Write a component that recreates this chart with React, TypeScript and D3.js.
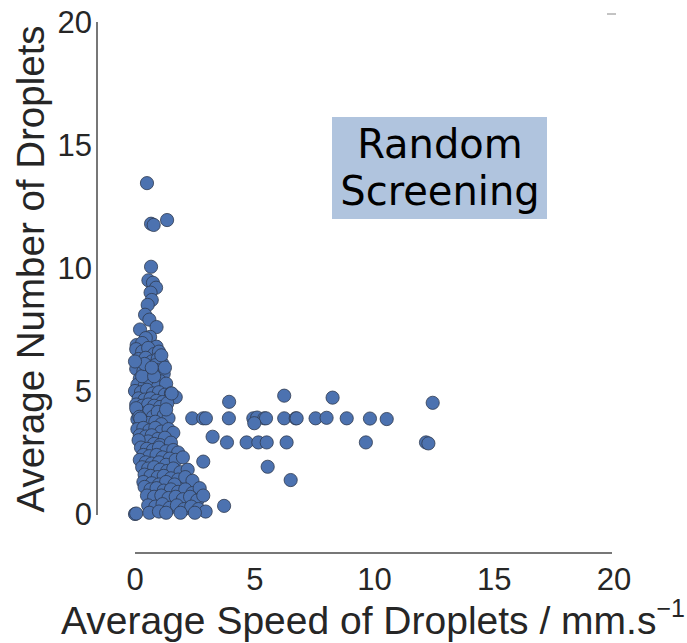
import React from "react";
import * as d3 from "d3";

const xTicks = [0, 5, 10, 15, 20];
const yTicks = [0, 5, 10, 15, 20];
const xLabel = "Average Speed of Droplets / mm.s";
const xLabelSup = "\u22121";
const yLabel = "Average Number of Droplets";
const boxLines = ["Random", "Screening"];

// [speed, number] pairs — dense cluster near low speeds
const clusterPoints: [number, number][] = [
  [0.5, 13.45], [0.67, 11.8], [0.78, 11.75], [1.34, 11.95],
  [0.67, 10.05], [0.56, 9.5], [0.75, 9.4], [0.88, 9.2], [0.65, 9.0],
  [0.7, 8.7], [0.53, 8.5], [0.42, 8.1], [0.6, 7.9], [0.9, 7.6], [0.21, 7.5],
  [0.63, 7.2], [0.45, 7.15], [0.07, 6.87], [0.9, 6.8], [0.3, 6.95],
  [0.05, 6.7], [0.3, 6.6], [0.55, 6.75], [0.8, 6.5], [1.0, 6.6], [0.15, 6.3], [0.45, 6.35],
  [0.7, 6.2], [0.95, 6.3], [1.15, 6.1], [0.25, 6.05], [0.6, 6.0], [0.85, 6.05],
  [0.05, 5.9], [0.35, 5.8], [0.6, 5.7], [0.9, 5.85], [1.2, 5.7], [0.2, 5.5], [0.5, 5.45],
  [0.75, 5.5], [1.05, 5.4], [0.1, 5.25], [0.4, 5.2], [0.65, 5.3], [0.95, 5.15], [1.3, 5.3],
  [0.3, 5.6], [0.8, 5.6], [1.1, 6.45], [0.4, 6.1], [0.7, 5.95], [1.25, 5.95], [0.0, 6.2],
  [0.0, 5.0], [0.25, 4.95], [0.5, 5.05], [0.75, 4.9], [1.0, 4.95], [1.25, 4.85], [1.5, 4.9],
  [1.7, 4.75], [0.15, 4.7], [0.4, 4.65], [0.65, 4.7], [0.9, 4.6], [1.15, 4.55], [0.05, 4.45],
  [0.3, 4.4], [0.55, 4.45], [0.8, 4.4], [1.05, 4.35], [1.35, 4.5],
  [0.1, 4.2], [0.2, 4.0], [0.15, 3.9], [0.25, 3.95], [0.3, 4.05], [0.1, 3.85], [0.45, 4.1],
  [0.6, 4.2], [0.75, 3.95], [0.95, 4.15], [1.2, 4.0], [1.4, 3.9], [0.35, 3.75], [0.55, 3.7],
  [0.85, 3.75], [1.1, 3.65], [0.2, 3.6], [0.05, 4.3], [1.3, 4.25], [0.18, 3.95], [0.22, 3.88],
  [0.1, 3.45], [0.35, 3.5], [0.6, 3.4], [0.85, 3.5], [1.1, 3.35], [1.4, 3.45], [1.6, 3.3],
  [0.2, 3.2], [0.45, 3.15], [0.7, 3.2], [0.95, 3.05], [1.25, 3.1], [0.3, 2.9], [0.55, 2.95],
  [0.8, 2.85], [1.05, 2.8], [1.5, 2.9], [0.15, 3.0],
  [0.25, 2.7], [0.5, 2.65], [0.75, 2.6], [1.0, 2.7], [1.3, 2.55], [1.6, 2.6], [1.8, 2.5],
  [0.35, 2.4], [0.6, 2.35], [0.9, 2.4], [1.15, 2.3], [1.45, 2.25], [0.2, 2.2], [0.45, 2.1],
  [0.7, 2.05], [1.0, 2.1], [1.3, 2.0], [1.7, 2.2], [2.0, 2.3],
  [0.3, 1.9], [0.55, 1.85], [0.8, 1.9], [1.05, 1.8], [1.35, 1.75], [1.6, 1.85], [1.9, 1.7],
  [2.2, 1.8], [0.4, 1.6], [0.65, 1.55], [0.95, 1.5], [1.2, 1.55], [1.5, 1.45], [1.8, 1.4],
  [2.1, 1.5], [0.35, 1.3], [0.7, 1.25], [1.0, 1.2], [1.3, 1.3], [1.65, 1.2], [2.4, 1.35],
  [0.4, 1.1], [0.65, 1.0], [0.9, 1.05], [1.2, 0.95], [1.5, 1.0], [1.8, 0.9], [2.1, 1.0],
  [2.4, 0.85], [2.7, 1.05], [0.5, 0.75], [0.8, 0.7], [1.1, 0.75], [1.4, 0.65], [1.7, 0.7],
  [2.0, 0.6], [2.3, 0.7], [2.6, 0.55], [2.85, 0.75],
  [0.0, 0.0], [0.05, 0.02], [0.55, 0.35], [0.85, 0.3], [1.15, 0.4], [1.45, 0.25], [1.75, 0.35],
  [2.05, 0.2], [2.35, 0.3], [2.65, 0.2], [2.95, 0.1], [0.6, 0.05], [1.0, 0.1], [1.3, 0.05],
  [1.9, 0.05], [2.5, 0.05],
];

// [speed, number] pairs — points spread to higher speeds
const spreadPoints: [number, number][] = [
  [1.53, 4.9], [3.93, 4.56], [6.23, 4.81], [8.25, 4.73], [12.43, 4.52],
  [2.39, 3.89], [2.85, 3.89], [2.96, 3.89], [3.92, 3.89], [4.94, 3.89], [5.1, 3.92],
  [5.4, 3.89], [5.47, 3.89], [6.23, 3.89], [6.71, 3.89], [6.75, 3.89], [7.54, 3.89],
  [8.0, 3.91], [8.84, 3.89], [9.81, 3.88], [10.51, 3.86], [4.98, 3.69],
  [3.24, 3.14], [3.84, 2.91], [4.66, 2.91], [5.15, 2.91], [5.5, 2.91], [6.33, 2.91],
  [9.64, 2.91], [12.15, 2.91], [12.25, 2.87],
  [2.85, 2.13], [5.54, 1.92], [6.5, 1.38], [3.72, 0.33],
];

export default function App() {
  const W = 687;
  const H = 643;
  const x = d3.scaleLinear().domain([0, 20]).range([135, 614]);
  const y = d3.scaleLinear().domain([0, 20]).range([514, 22]);
  const axisColor = "#4a4a4a";
  const textColor = "#262626";
  const tickFont = "'Liberation Sans', Arial, sans-serif";
  const pts = [...clusterPoints, ...spreadPoints];

  return (
    <svg width={W} height={H} style={{ position: "absolute", left: 0, top: 0, background: "#fff" }}>
      {/* y axis */}
      <line x1={97} x2={97} y1={y(20)} y2={y(0) + 1} stroke={axisColor} strokeWidth={1.5} />
      {yTicks.map((t) => (
        <text key={"y" + t} x={92} y={y(t)} dy="0.36em" textAnchor="end"
          fontFamily={tickFont} fontSize={31} fill={textColor}>{t}</text>
      ))}
      {/* x axis */}
      <line x1={x(0)} x2={x(20) - 2} y1={553} y2={553} stroke={axisColor} strokeWidth={1.5} />
      {xTicks.map((t) => (
        <text key={"x" + t} x={x(t)} y={590} textAnchor="middle"
          fontFamily={tickFont} fontSize={31} fill={textColor}>{t}</text>
      ))}
      {/* stray mark top right */}
      <line x1={607} x2={616} y1={14} y2={14} stroke="#888" strokeWidth={1} />
      {/* axis labels */}
      <text x={61} y={634} fontFamily={tickFont} fontSize={39} fill={textColor}>
        {xLabel}
        <tspan dy={-17} fontSize={25}>{xLabelSup}</tspan>
      </text>
      <text transform={`translate(44,${(y(0) + y(20)) / 2 + 1}) rotate(-90)`} textAnchor="middle"
        fontFamily={tickFont} fontSize={38.5} fill={textColor}>{yLabel}</text>
      {/* annotation box */}
      <rect x={332} y={117} width={215} height={102} fill="#b0c4de" />
      {boxLines.map((s, i) => (
        <text key={s} x={440} y={158 + i * 47} textAnchor="middle"
          fontFamily="'DejaVu Sans', sans-serif" fontSize={40} fill="#000">{s}</text>
      ))}
      {/* points */}
      <g>
        {pts.map((p, i) => (
          <circle key={i} cx={x(p[0])} cy={y(p[1])} r={6.6} fill="#4c72b0"
            stroke="#2e3a4f" strokeWidth={0.8} />
        ))}
      </g>
    </svg>
  );
}
